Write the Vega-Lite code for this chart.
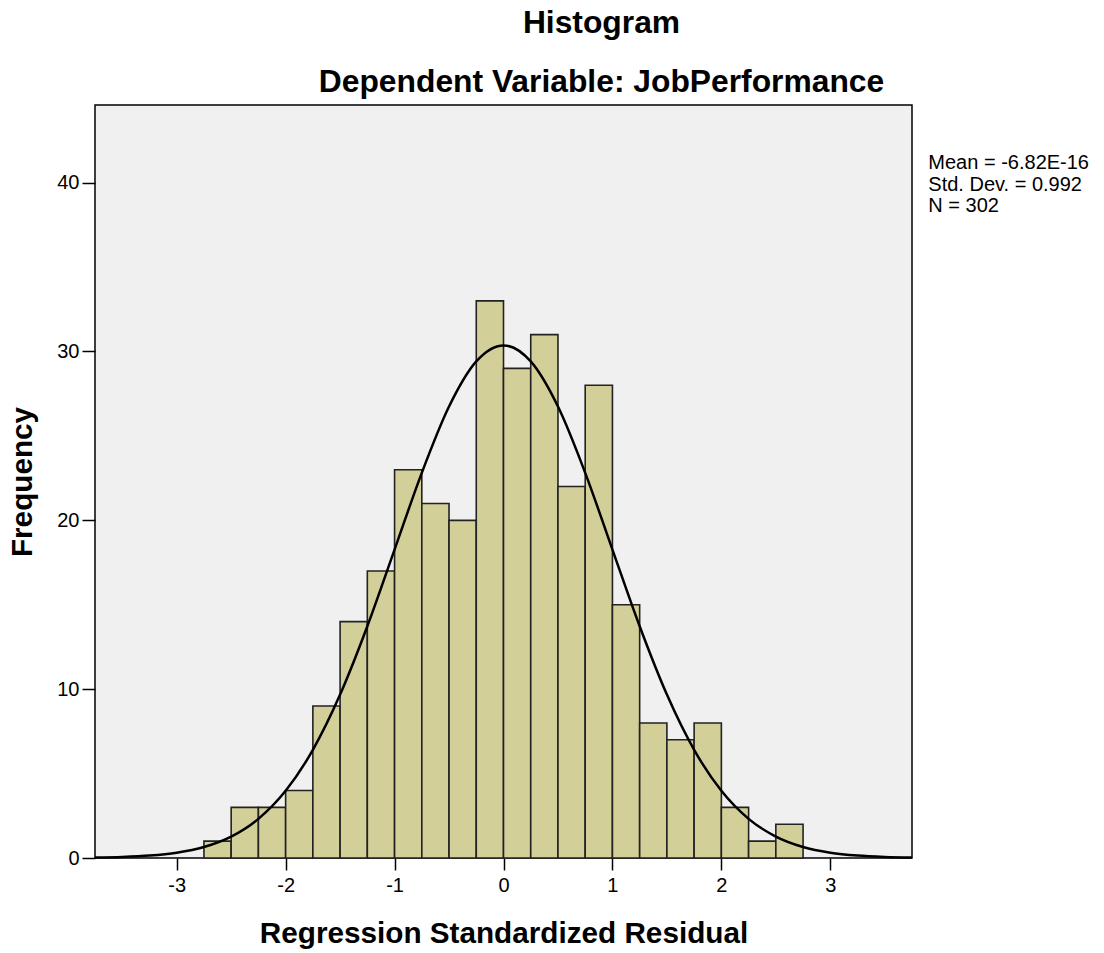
{
  "$schema": "https://vega.github.io/schema/vega-lite/v6.json",
  "autosize": {"type": "none"},
  "padding": {"left": 95, "top": 105, "right": 192, "bottom": 95},
  "width": 817,
  "height": 753,
  "background": "white",
  "title": {
    "text": "Histogram",
    "subtitle": "Dependent Variable: JobPerformance",
    "font": "Liberation Sans",
    "fontSize": 31.8,
    "fontWeight": "bold",
    "color": "black",
    "subtitleFont": "Liberation Sans",
    "subtitleFontSize": 31.8,
    "subtitleFontWeight": "bold",
    "subtitleColor": "black",
    "subtitlePadding": 27,
    "offset": 6,
    "dx": 98,
    "anchor": "middle"
  },
  "config": {
    "view": {"fill": "#F0F0F0", "stroke": "#000000", "strokeWidth": 1.5},
    "axis": {
      "grid": false,
      "domain": false,
      "tickColor": "#000000",
      "tickWidth": 1.5,
      "labelFont": "Liberation Sans",
      "labelFontSize": 20,
      "labelColor": "#000000",
      "titleFont": "Liberation Sans",
      "titleFontSize": 29.7,
      "titleFontWeight": "bold",
      "titleColor": "#000000"
    }
  },
  "layer": [
    {
      "data": {"name": "bins", "values": [
        {"bin_start": -2.75, "bin_end": -2.5, "count": 1},
        {"bin_start": -2.5, "bin_end": -2.25, "count": 3},
        {"bin_start": -2.25, "bin_end": -2.0, "count": 3},
        {"bin_start": -2.0, "bin_end": -1.75, "count": 4},
        {"bin_start": -1.75, "bin_end": -1.5, "count": 9},
        {"bin_start": -1.5, "bin_end": -1.25, "count": 14},
        {"bin_start": -1.25, "bin_end": -1.0, "count": 17},
        {"bin_start": -1.0, "bin_end": -0.75, "count": 23},
        {"bin_start": -0.75, "bin_end": -0.5, "count": 21},
        {"bin_start": -0.5, "bin_end": -0.25, "count": 20},
        {"bin_start": -0.25, "bin_end": 0.0, "count": 33},
        {"bin_start": 0.0, "bin_end": 0.25, "count": 29},
        {"bin_start": 0.25, "bin_end": 0.5, "count": 31},
        {"bin_start": 0.5, "bin_end": 0.75, "count": 22},
        {"bin_start": 0.75, "bin_end": 1.0, "count": 28},
        {"bin_start": 1.0, "bin_end": 1.25, "count": 15},
        {"bin_start": 1.25, "bin_end": 1.5, "count": 8},
        {"bin_start": 1.5, "bin_end": 1.75, "count": 7},
        {"bin_start": 1.75, "bin_end": 2.0, "count": 8},
        {"bin_start": 2.0, "bin_end": 2.25, "count": 3},
        {"bin_start": 2.25, "bin_end": 2.5, "count": 1},
        {"bin_start": 2.5, "bin_end": 2.75, "count": 2}
      ]},
      "mark": {"type": "rect", "fill": "#D3CF99", "stroke": "#222222", "strokeWidth": 1.6},
      "encoding": {
        "x": {
          "field": "bin_start", "type": "quantitative",
          "scale": {"domain": [-3.75, 3.75], "nice": false, "zero": false, "padding": 0},
          "axis": {"title": "Regression Standardized Residual", "values": [-3, -2, -1, 0, 1, 2, 3], "labelExpr": "'' + datum.value", "tickSize": 12, "labelPadding": 5, "titlePadding": 24, "labelFlush": false}
        },
        "x2": {"field": "bin_end"},
        "y": {
          "field": "count", "type": "quantitative",
          "scale": {"domain": [0, 44.6], "nice": false, "padding": 0},
          "axis": {"title": "Frequency", "values": [0, 10, 20, 30, 40], "labelExpr": "'' + datum.value", "tickSize": 13, "labelPadding": 3, "titlePadding": 19}
        },
        "y2": {"datum": 0}
      }
    },
    {
      "data": {"name": "curve", "values": [
        {"x": -3.75, "y": 0.024},
        {"x": -3.5, "y": 0.060},
        {"x": -3.25, "y": 0.142},
        {"x": -3.0, "y": 0.314},
        {"x": -2.75, "y": 0.651},
        {"x": -2.5, "y": 1.268},
        {"x": -2.25, "y": 2.319},
        {"x": -2.0, "y": 3.978},
        {"x": -1.75, "y": 6.405},
        {"x": -1.5, "y": 9.678},
        {"x": -1.25, "y": 13.726},
        {"x": -1.0, "y": 18.267},
        {"x": -0.75, "y": 22.813},
        {"x": -0.5, "y": 26.739},
        {"x": -0.25, "y": 29.411},
        {"x": 0.0, "y": 30.36},
        {"x": 0.25, "y": 29.411},
        {"x": 0.5, "y": 26.739},
        {"x": 0.75, "y": 22.813},
        {"x": 1.0, "y": 18.267},
        {"x": 1.25, "y": 13.726},
        {"x": 1.5, "y": 9.678},
        {"x": 1.75, "y": 6.405},
        {"x": 2.0, "y": 3.978},
        {"x": 2.25, "y": 2.319},
        {"x": 2.5, "y": 1.268},
        {"x": 2.75, "y": 0.651},
        {"x": 3.0, "y": 0.314},
        {"x": 3.25, "y": 0.142},
        {"x": 3.5, "y": 0.060},
        {"x": 3.75, "y": 0.024}
      ]},
      "mark": {"type": "line", "color": "#000000", "strokeWidth": 2.5, "interpolate": "monotone"},
      "encoding": {
        "x": {"field": "x", "type": "quantitative"},
        "y": {"field": "y", "type": "quantitative"}
      }
    },
    {
      "data": {"name": "stats", "values": [{"n": 302}]},
      "mark": {
        "type": "text",
        "text": ["Mean = -6.82E-16", "Std. Dev. = 0.992", "N = 302"],
        "font": "Liberation Sans",
        "fontSize": 20,
        "lineHeight": 21.5,
        "align": "left",
        "baseline": "alphabetic",
        "color": "#000000",
        "clip": false
      },
      "encoding": {
        "x": {"datum": 3.9, "type": "quantitative"},
        "y": {"datum": 40.8, "type": "quantitative"}
      }
    }
  ]
}
